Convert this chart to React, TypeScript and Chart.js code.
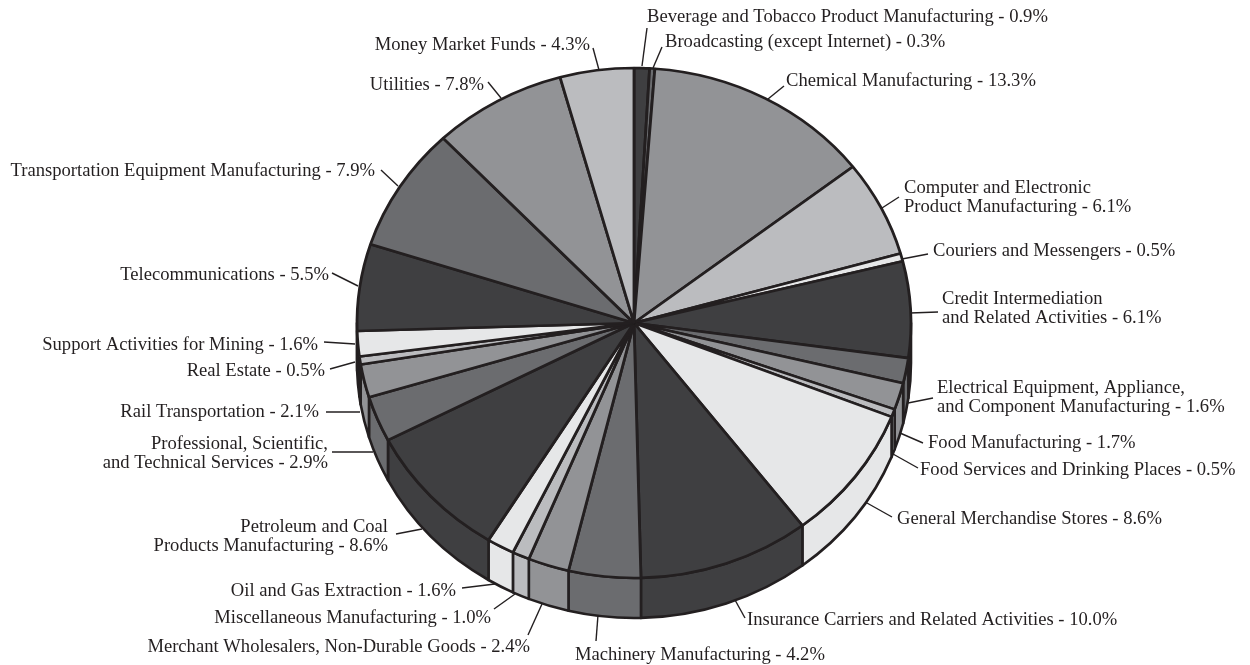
import React, { useEffect, useRef } from "react";
import { Chart, registerables } from "chart.js";

Chart.register(...registerables);

const categories = [
  "Beverage and Tobacco Product Manufacturing",
  "Broadcasting (except Internet)",
  "Chemical Manufacturing",
  "Computer and Electronic\nProduct Manufacturing",
  "Couriers and Messengers",
  "Credit Intermediation\nand Related Activities",
  "Electrical Equipment, Appliance,\nand Component Manufacturing",
  "Food Manufacturing",
  "Food Services and Drinking Places",
  "General Merchandise Stores",
  "Insurance Carriers and Related Activities",
  "Machinery Manufacturing",
  "Merchant Wholesalers, Non-Durable Goods",
  "Miscellaneous Manufacturing",
  "Oil and Gas Extraction",
  "Petroleum and Coal\nProducts Manufacturing",
  "Professional, Scientific,\nand Technical Services",
  "Rail Transportation",
  "Real Estate",
  "Support Activities for Mining",
  "Telecommunications",
  "Transportation Equipment Manufacturing",
  "Utilities",
  "Money Market Funds",
];

const values = [0.9, 0.3, 13.3, 6.1, 0.5, 6.1, 1.6, 1.7, 0.5, 8.6, 10.0, 4.2, 2.4, 1.0, 1.6, 8.6, 2.9, 2.1, 0.5, 1.6, 5.5, 7.9, 7.8, 4.3];

const shades = ["#3f3f41", "#6b6c6f", "#929396", "#bbbcbf", "#e6e7e8"];

// x, first baseline, alignment of each label
const labelAnchors: [number, number, CanvasTextAlign][] = [
  [647, 22, "left"], [665, 47, "left"], [786, 86, "left"], [904, 193, "left"],
  [933, 256, "left"], [942, 304, "left"], [937, 393, "left"], [928, 448, "left"],
  [920, 475, "left"], [897, 524, "left"], [747, 625, "left"], [575, 660, "left"],
  [530, 652, "right"], [491, 623, "right"], [456, 596, "right"], [388, 532, "right"],
  [328, 449, "right"], [319, 417, "right"], [325, 376, "right"], [318, 350, "right"],
  [329, 280, "right"], [375, 176, "right"], [484, 90, "right"], [590, 50, "right"],
];

// leader lines: rim end then text end
const leaders: [number, number, number, number][] = [
  [642, 66, 647, 28], [653, 68, 662, 47], [768, 99, 784, 86], [882, 208, 899, 197],
  [902, 259, 928, 254], [910, 313, 938, 312], [908, 403, 933, 398], [900, 433, 923, 443],
  [893, 454, 918, 468], [867, 503, 892, 517], [735, 600, 745, 618], [598, 615, 596, 641],
  [542, 604, 528, 635], [515, 594, 494, 609], [495, 584, 462, 588], [422, 529, 396, 534],
  [373, 452, 332, 452], [360, 412, 326, 412], [355, 362, 330, 369], [355, 344, 324, 342],
  [358, 286, 332, 273], [398, 186, 381, 170], [501, 98, 488, 82], [599, 70, 593, 48],
];

const INK = "#231f20";
const WIDE_RADIUS = 277;
const DEPTH = 40;
const LINE = 2.6;

const piePlugin = {
  id: "pie3d",
  beforeDatasetsDraw(chart: any) {
    const ctx = chart.ctx as CanvasRenderingContext2D;
    const arcs = chart.getDatasetMeta(0).data;
    ctx.save();
    ctx.lineWidth = LINE;
    ctx.strokeStyle = INK;
    ctx.lineJoin = "round";
    arcs.forEach((arc: any, i: number) => {
      const a0 = Math.max(arc.startAngle, 0);
      const a1 = Math.min(arc.endAngle, Math.PI);
      if (a1 <= a0) return;
      const ry = arc.outerRadius;
      ctx.beginPath();
      ctx.ellipse(arc.x, arc.y + DEPTH, WIDE_RADIUS, ry, 0, a0, a1);
      ctx.ellipse(arc.x, arc.y, WIDE_RADIUS, ry, 0, a1, a0, true);
      ctx.closePath();
      ctx.fillStyle = shades[i % shades.length];
      ctx.fill();
      ctx.stroke();
    });
    ctx.restore();
  },
  beforeDatasetDraw(chart: any) {
    const ctx = chart.ctx as CanvasRenderingContext2D;
    const arc = chart.getDatasetMeta(0).data[0];
    ctx.save();
    ctx.translate(arc.x, arc.y);
    ctx.scale(WIDE_RADIUS / arc.outerRadius, 1);
    ctx.translate(-arc.x, -arc.y);
  },
  afterDatasetDraw(chart: any) {
    chart.ctx.restore();
  },
  afterDraw(chart: any) {
    const ctx = chart.ctx as CanvasRenderingContext2D;
    ctx.save();
    ctx.strokeStyle = INK;
    ctx.lineWidth = 1.4;
    leaders.forEach(([x1, y1, x2, y2]) => {
      ctx.beginPath();
      ctx.moveTo(x1, y1);
      ctx.lineTo(x2, y2);
      ctx.stroke();
    });
    ctx.fillStyle = INK;
    ctx.font = '18.6px "Liberation Serif"';
    ctx.textBaseline = "alphabetic";
    categories.forEach((name, i) => {
      const lines = `${name} - ${values[i].toFixed(1)}%`.split("\n");
      const [x, y, align] = labelAnchors[i];
      ctx.textAlign = align;
      lines.forEach((line, j) => ctx.fillText(line, x, y + j * 19));
    });
    ctx.restore();
  },
};

export default function App() {
  const ref = useRef<HTMLCanvasElement>(null);
  useEffect(() => {
    const chart = new Chart(ref.current!, {
      type: "pie",
      data: {
        labels: categories,
        datasets: [
          {
            data: values,
            backgroundColor: categories.map((_, i) => shades[i % shades.length]),
            borderColor: INK,
            borderWidth: LINE,
            clip: false,
          } as any,
        ],
      },
      options: {
        responsive: false,
        animation: false,
        events: [],
        layout: { padding: { left: 377.7, right: 359.7, top: 66.7, bottom: 85.7 } },
        plugins: { legend: { display: false }, tooltip: { enabled: false } },
      },
      plugins: [piePlugin],
    });
    return () => chart.destroy();
  }, []);
  return (
    <div style={{ position: "absolute", left: 0, top: 0, width: 1250, height: 665, background: "#fff" }}>
      <canvas ref={ref} width={1250} height={665} style={{ display: "block" }} />
    </div>
  );
}
